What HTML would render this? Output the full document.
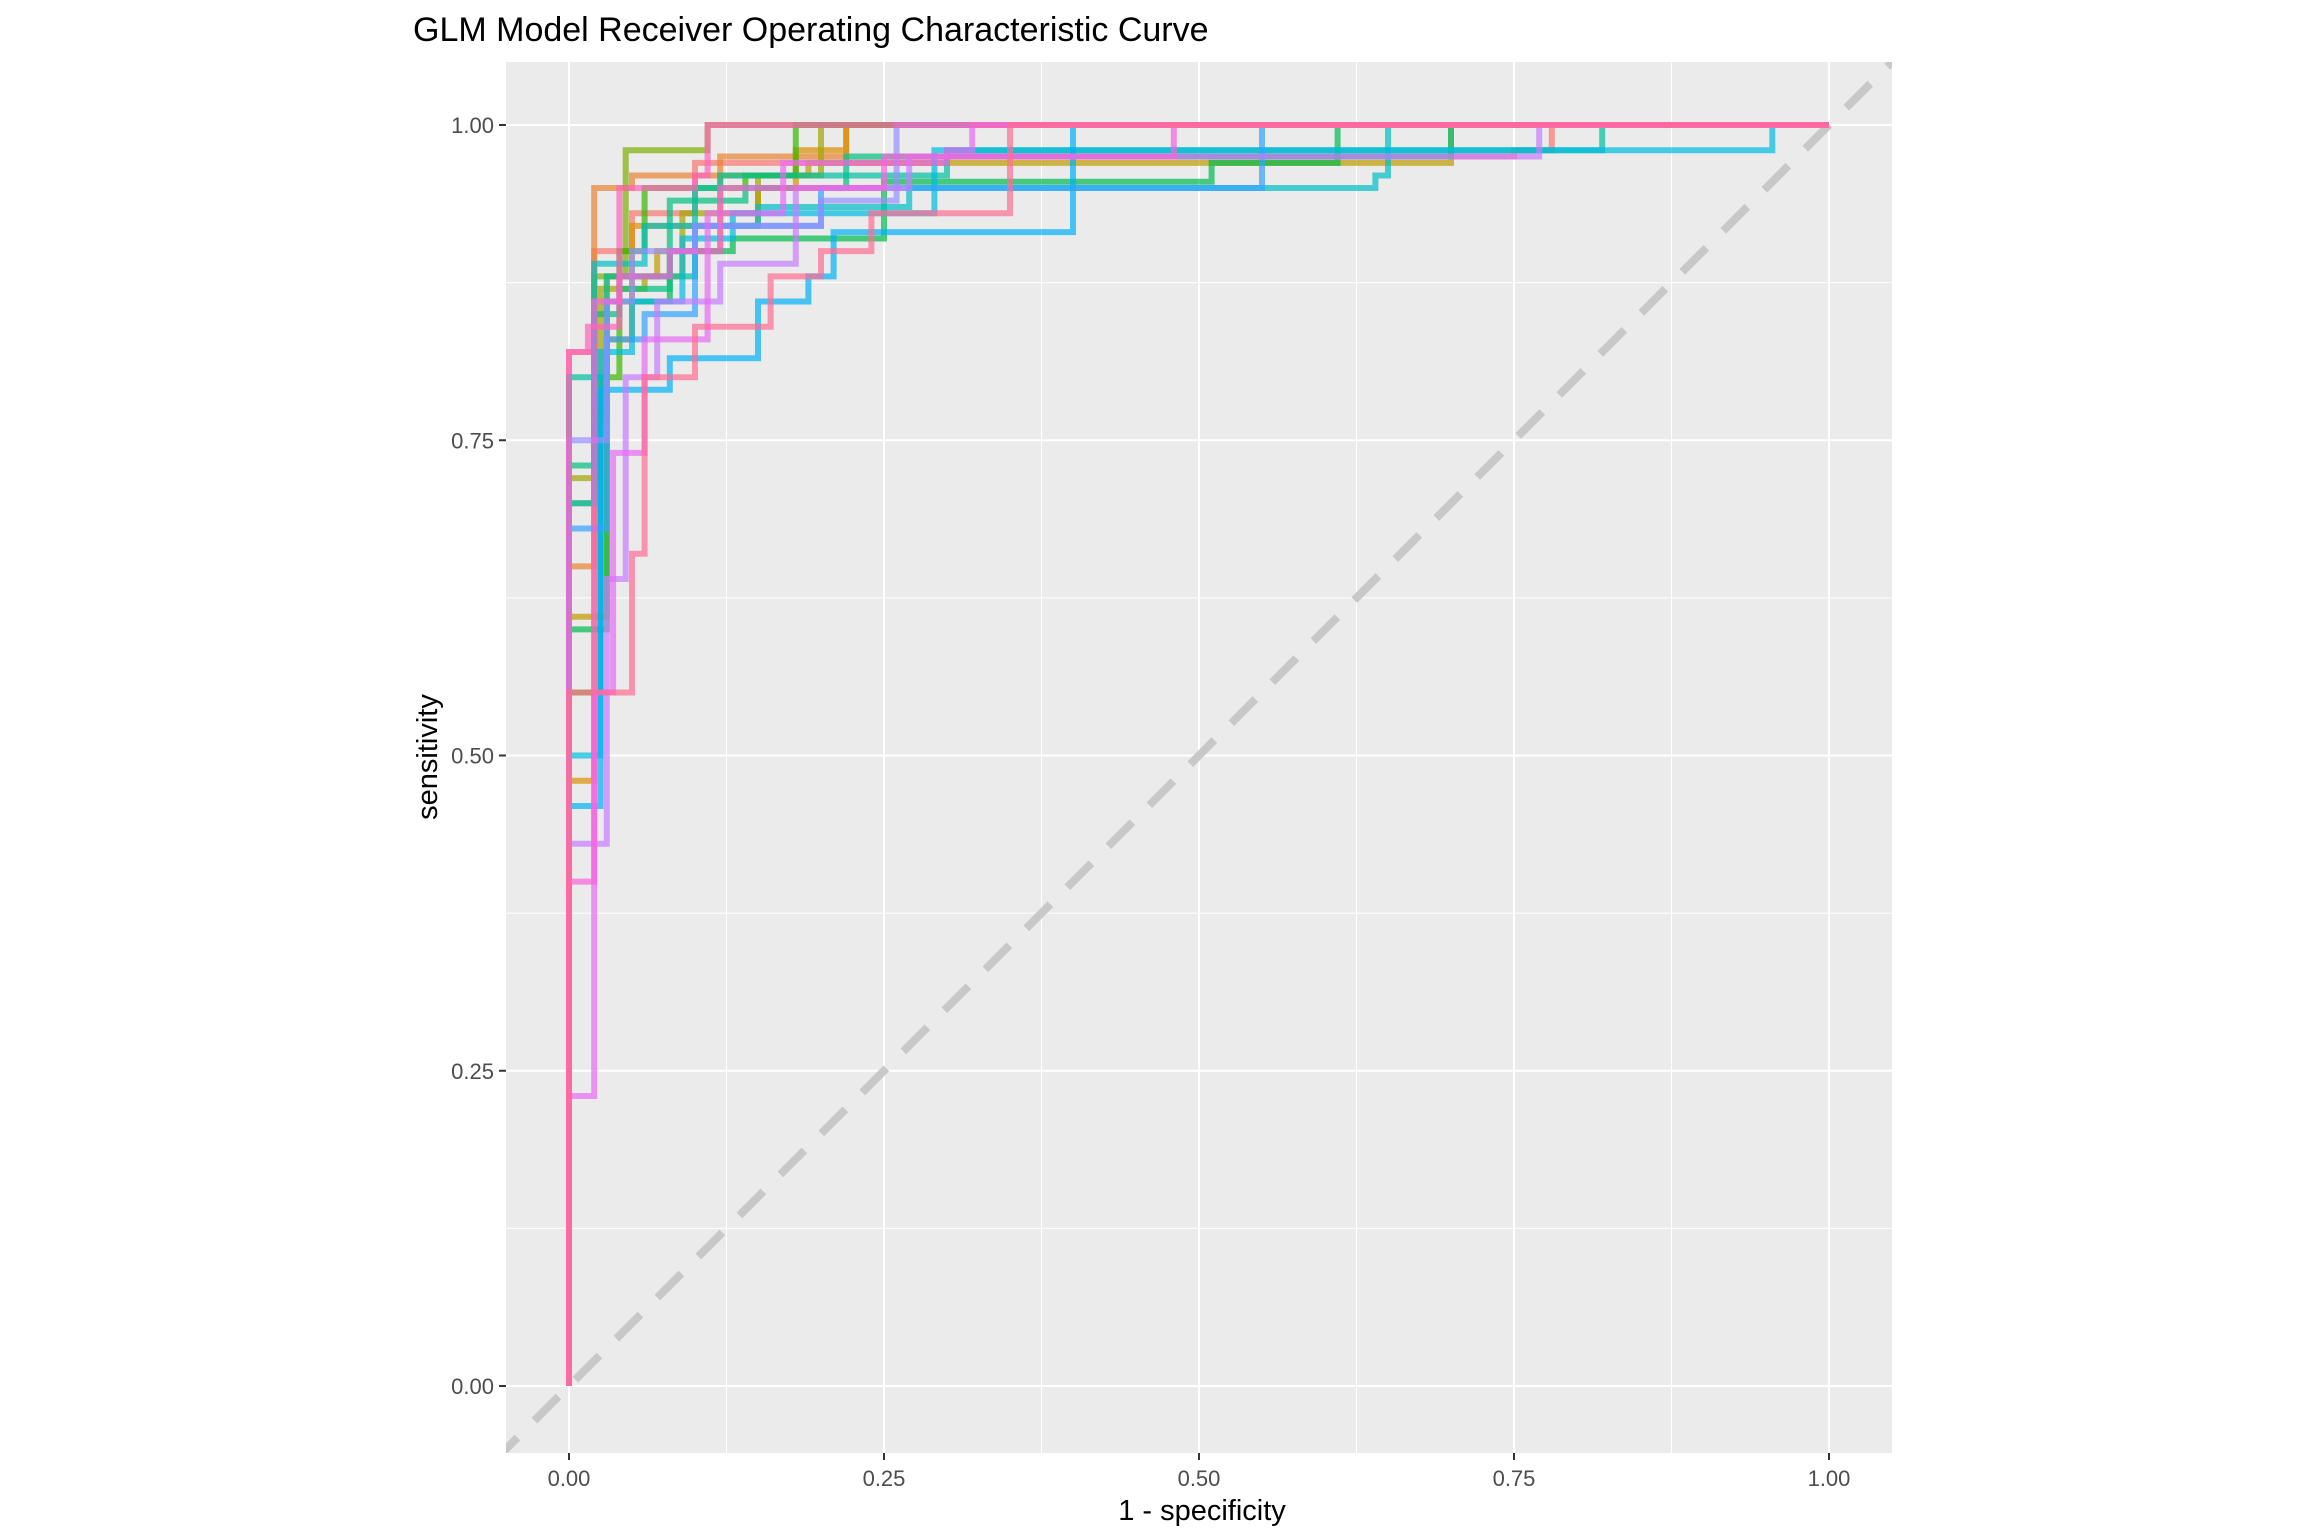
<!DOCTYPE html>
<html><head><meta charset="utf-8"><style>
body{margin:0;background:#fff;}
svg{display:block;font-family:"Liberation Sans",Arial,sans-serif;}
</style></head><body>
<svg id="chart" width="2304" height="1536" viewBox="0 0 2304 1536" xmlns="http://www.w3.org/2000/svg">
<text x="413" y="41" font-size="34" fill="#000">GLM Model Receiver Operating Characteristic Curve</text>
<rect x="506" y="62" width="1386" height="1391" fill="#ebebeb"/>
<g id="grid"></g>
<defs><clipPath id="clip"><rect x="506" y="62" width="1386" height="1391"/></clipPath></defs>
<g id="marks" clip-path="url(#clip)"></g>
<g id="axes"></g>
<text x="1202" y="1520" font-size="29" text-anchor="middle" fill="#000">1 - specificity</text>
<text transform="translate(437,757) rotate(-90)" font-size="29" text-anchor="middle" fill="#000">sensitivity</text>
</svg>
<script>
const ticks = [0, 0.25, 0.5, 0.75, 1];
const tickLabels = ["0.00", "0.25", "0.50", "0.75", "1.00"];
const colors = ["#F8766D","#EA8331","#D89000","#C09B00","#A3A500","#7CAE00","#39B600","#00BB4E","#00BF7D","#00C1A3","#00BFC4","#00BAE0","#00B0F6","#35A2FF","#9590FF","#C77CFF","#E76BF3","#FA62DB","#FF62BC","#FF6C91"];
const fpr1 = [0,0.02,0.05,0.1,0.3,0.75,0.78];       const tpr1 = [0.82,0.9,0.93,0.97,0.975,0.98,1];
const fpr2 = [0,0.02,0.05,0.12,0.22];               const tpr2 = [0.65,0.95,0.96,0.975,1];
const fpr3 = [0,0.02,0.03,0.05,0.15,0.18,0.22];     const tpr3 = [0.48,0.77,0.83,0.92,0.95,0.98,1];
const fpr4 = [0,0.03,0.07,0.12,0.19,0.7];           const tpr4 = [0.61,0.88,0.9,0.96,0.97,1];
const fpr5 = [0,0.025,0.06,0.09,0.15,0.2];          const tpr5 = [0.72,0.87,0.88,0.93,0.96,1];
const fpr6 = [0,0.02,0.045,0.11];                   const tpr6 = [0.7,0.88,0.98,1];
const fpr7 = [0,0.025,0.04,0.06,0.14,0.18];         const tpr7 = [0.55,0.8,0.9,0.95,0.96,1];
const fpr8 = [0,0.03,0.08,0.13,0.25,0.51,0.61];     const tpr8 = [0.6,0.86,0.9,0.91,0.955,0.97,1];
const fpr9 = [0,0.02,0.04,0.08,0.14,0.22,0.7];      const tpr9 = [0.73,0.85,0.87,0.94,0.95,0.975,1];
const fpr10 = [0,0.03,0.1,0.12,0.3,0.82];           const tpr10 = [0.8,0.88,0.95,0.96,0.98,1];
const fpr11 = [0,0.02,0.06,0.15,0.27,0.64,0.65];    const tpr11 = [0.7,0.89,0.92,0.935,0.95,0.96,1];
const fpr12 = [0,0.025,0.05,0.09,0.13,0.29,0.955];  const tpr12 = [0.5,0.82,0.86,0.91,0.93,0.98,1];
const fpr13 = [0,0.025,0.08,0.15,0.19,0.21,0.4];    const tpr13 = [0.46,0.79,0.815,0.86,0.88,0.915,1];
const fpr14 = [0,0.03,0.06,0.1,0.2,0.55];           const tpr14 = [0.68,0.83,0.85,0.92,0.95,1];
const fpr15 = [0,0.03,0.05,0.1,0.2,0.26];           const tpr15 = [0.75,0.86,0.9,0.92,0.94,1];
const fpr16 = [0,0.03,0.045,0.07,0.12,0.18,0.27,0.77]; const tpr16 = [0.43,0.64,0.8,0.86,0.89,0.95,0.975,1];
const fpr17 = [0,0.02,0.035,0.06,0.11,0.17,0.3,0.32];  const tpr17 = [0.23,0.55,0.74,0.83,0.93,0.97,0.98,1];
const fpr18 = [0,0.02,0.04,0.08,0.12,0.25,0.48];    const tpr18 = [0.4,0.86,0.88,0.9,0.95,0.975,1];
const fpr19 = [0,0.015,0.04,0.1,0.11];              const tpr19 = [0.82,0.84,0.95,0.96,1];
const fpr20 = [0,0.05,0.06,0.1,0.16,0.2,0.24,0.35,1]; const tpr20 = [0.55,0.66,0.8,0.84,0.88,0.9,0.93,1,1];
const fprs = [fpr1,fpr2,fpr3,fpr4,fpr5,fpr6,fpr7,fpr8,fpr9,fpr10,fpr11,fpr12,fpr13,fpr14,fpr15,fpr16,fpr17,fpr18,fpr19,fpr20];
const tprs = [tpr1,tpr2,tpr3,tpr4,tpr5,tpr6,tpr7,tpr8,tpr9,tpr10,tpr11,tpr12,tpr13,tpr14,tpr15,tpr16,tpr17,tpr18,tpr19,tpr20];

const X0=569, X1=1829, Y0=1386, Y1=125;
function sx(v){return X0+(X1-X0)*v;}
function sy(v){return Y0-(Y0-Y1)*v;}
const NS="http://www.w3.org/2000/svg";
function mk(tag,attrs,parent){const e=document.createElementNS(NS,tag);for(const k in attrs)e.setAttribute(k,attrs[k]);parent.appendChild(e);return e;}
const grid=document.getElementById('grid'), marks=document.getElementById('marks'), axes=document.getElementById('axes');
for(let i=0;i<ticks.length-1;i++){
  const m=(ticks[i]+ticks[i+1])/2;
  const gx=mk('line',{x1:sx(m),x2:sx(m),y1:62,y2:1453,stroke:'#fff','stroke-width':1},grid);
  
  
  const gy=mk('line',{x1:506,x2:1892,y1:sy(m),y2:sy(m),stroke:'#fff','stroke-width':1},grid);
  
  
}
ticks.forEach((t,i)=>{
  const gx=mk('line',{x1:sx(t),x2:sx(t),y1:62,y2:1453,stroke:'#fff','stroke-width':2},grid);
  
  
  const gy=mk('line',{x1:506,x2:1892,y1:sy(t),y2:sy(t),stroke:'#fff','stroke-width':2},grid);
  
  
  const tx=mk('line',{x1:sx(t),x2:sx(t),y1:1453,y2:1460,stroke:'#333','stroke-width':2},axes);
  
  
  const lx=mk('text',{x:sx(t),y:1486,'font-size':22,'text-anchor':'middle',fill:'#4d4d4d'},axes);
  lx.textContent=tickLabels[i];
  
  
  const ty=mk('line',{x1:499,x2:506,y1:sy(t),y2:sy(t),stroke:'#333','stroke-width':2},axes);
  
  
  const ly=mk('text',{x:494,y:sy(t)+8,'font-size':22,'text-anchor':'end',fill:'#4d4d4d'},axes);
  ly.textContent=tickLabels[i];
  
  
});
const diag=mk('line',{x1:sx(-0.06),y1:sy(-0.06),x2:sx(1.06),y2:sy(1.06),stroke:'#c8c8c8','stroke-width':8,'stroke-dasharray':'34 24'},marks);


fprs.forEach((f,k)=>{
  const t=tprs[k];
  let d='M'+sx(0)+' '+sy(0);
  let prev=0;
  for(let i=0;i<f.length;i++){
    d+=' L'+sx(f[i])+' '+sy(prev)+' L'+sx(f[i])+' '+sy(t[i]);
    prev=t[i];
  }
  d+=' L'+sx(1)+' '+sy(prev)+' L'+sx(1)+' '+sy(1);
  const p=mk('path',{d:d,fill:'none',stroke:colors[k],'stroke-width':6,'stroke-opacity':0.7,'stroke-linejoin':'miter'},marks);
  
  
});
</script>
</body></html>
